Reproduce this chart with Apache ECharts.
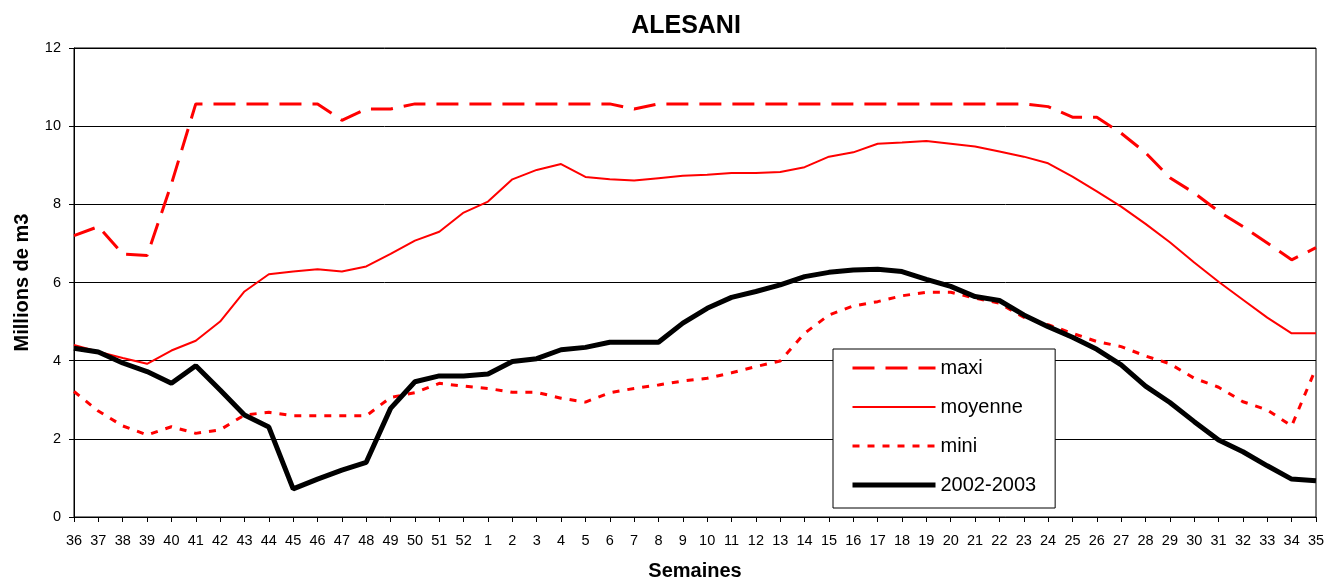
<!DOCTYPE html>
<html>
<head>
<meta charset="utf-8">
<title>ALESANI</title>
<script src="https://cdn.jsdelivr.net/npm/echarts@6/dist/echarts.min.js"></script>
<style>
  html, body { margin: 0; padding: 0; background: #fff; }
  #chart { width: 1327px; height: 579px; }
</style>
</head>
<body>
<div id="chart"></div>
<script>
// semaines : de 36 à 52 puis de 1 à 35
const weeks = ['36','37','38','39','40','41','42','43','44','45','46','47','48','49','50','51','52',
  '1','2','3','4','5','6','7','8','9','10','11','12','13','14','15','16','17','18','19','20',
  '21','22','23','24','25','26','27','28','29','30','31','32','33','34','35'];

// valeurs en millions de m3
const maxi = [7.2, 7.43, 6.73, 6.69, 8.52, 10.57, 10.57, 10.57, 10.57, 10.57, 10.57, 10.15, 10.44, 10.44, 10.57, 10.57, 10.57,
  10.57, 10.57, 10.57, 10.57, 10.57, 10.57, 10.44, 10.57, 10.57, 10.57, 10.57, 10.57, 10.57, 10.57, 10.57, 10.57,
  10.57, 10.57, 10.57, 10.57, 10.57, 10.57, 10.57, 10.5, 10.23, 10.23, 9.82, 9.32, 8.68, 8.29, 7.82, 7.43, 7.01, 6.58, 6.89];
const moyenne = [4.40, 4.23, 4.07, 3.92, 4.26, 4.51, 5.0, 5.77, 6.21, 6.28, 6.34, 6.28, 6.41, 6.73, 7.07, 7.30, 7.79,
  8.07, 8.64, 8.88, 9.03, 8.70, 8.64, 8.61, 8.67, 8.73, 8.76, 8.80, 8.80, 8.83, 8.95, 9.22, 9.33,
  9.55, 9.58, 9.62, 9.55, 9.48, 9.35, 9.22, 9.05, 8.71, 8.33, 7.94, 7.50, 7.03, 6.51, 6.02, 5.56, 5.10, 4.70, 4.70];
const mini = [3.21, 2.71, 2.33, 2.10, 2.31, 2.14, 2.23, 2.61, 2.68, 2.59, 2.59, 2.59, 2.59, 3.06, 3.18, 3.42, 3.35,
  3.29, 3.19, 3.19, 3.04, 2.94, 3.18, 3.29, 3.38, 3.48, 3.55, 3.69, 3.85, 3.99, 4.70, 5.17, 5.40,
  5.51, 5.66, 5.75, 5.75, 5.60, 5.47, 5.11, 4.92, 4.70, 4.49, 4.36, 4.12, 3.92, 3.55, 3.32, 2.95, 2.74, 2.33, 3.81];
const annee = [4.32, 4.22, 3.94, 3.72, 3.42, 3.87, 3.25, 2.61, 2.30, 0.72, 0.97, 1.20, 1.40, 2.78, 3.46, 3.61, 3.61,
  3.66, 3.98, 4.05, 4.28, 4.34, 4.47, 4.47, 4.47, 4.96, 5.34, 5.62, 5.77, 5.94, 6.15, 6.26, 6.32,
  6.34, 6.28, 6.08, 5.90, 5.64, 5.54, 5.17, 4.87, 4.60, 4.29, 3.89, 3.35, 2.93, 2.44, 1.97, 1.67, 1.31, 0.97, 0.93];

const font = 'Liberation Sans, Arial, sans-serif';
const chart = echarts.init(document.getElementById('chart'));

// styles des courbes, partagés entre les séries et la légende
const styles = {
  'maxi': { color: '#ff0000', width: 3, type: [22, 11] },
  'moyenne': { color: '#ff0000', width: 2, type: 'solid' },
  'mini': { color: '#ff0000', width: 3, type: [7, 8] },
  '2002-2003': { color: '#000', width: 5, type: 'solid' }
};
const seriesData = { 'maxi': maxi, 'moyenne': moyenne, 'mini': mini, '2002-2003': annee };
const names = Object.keys(styles);

const option = {
  animation: false,
  backgroundColor: '#fff',
  title: {
    text: 'ALESANI',
    left: 681,
    textAlign: 'center',
    top: 9,
    textStyle: { fontFamily: font, fontSize: 25, fontWeight: 'bold', color: '#000' }
  },
  grid: {
    left: 74, right: 11, top: 48, bottom: 62,
    outerBoundsMode: 'none',
    show: true, borderColor: '#000', borderWidth: 1 // cadre autour du tracé
  },
  legend: {
    orient: 'vertical',
    left: 833,
    top: 349,
    padding: [9, 19, 13, 17],
    borderColor: '#000',
    borderWidth: 1,
    backgroundColor: '#fff',
    itemWidth: 83,
    itemHeight: 14,
    itemGap: 19,
    textStyle: { fontFamily: font, fontSize: 20, color: '#000' },
    // pas de symbole dans la légende, juste le trait
    data: names.map(n => ({
      name: n,
      itemStyle: { opacity: 0 },
      lineStyle: { color: styles[n].color, width: styles[n].width, type: styles[n].type }
    }))
  },
  xAxis: {
    type: 'category',
    data: weeks,
    boundaryGap: false,
    name: 'Semaines',
    nameLocation: 'middle',
    nameGap: 44,
    nameTextStyle: { fontFamily: font, fontSize: 20, fontWeight: 'bold', color: '#000' },
    axisLine: { lineStyle: { color: '#000', width: 1 } },
    axisTick: { show: true, length: 5, interval: 0, lineStyle: { color: '#000' } },
    axisLabel: { interval: 0, margin: 16, fontFamily: font, fontSize: 14.5, color: '#000' }
  },
  yAxis: {
    type: 'value',
    min: 0,
    max: 12,
    interval: 2,
    name: 'Millions de m3',
    nameLocation: 'middle',
    nameGap: 42,
    nameTextStyle: { fontFamily: font, fontSize: 20, fontWeight: 'bold', color: '#000' },
    axisLine: { show: true, lineStyle: { color: '#000', width: 1 } },
    axisTick: { show: true, length: 5, lineStyle: { color: '#000' } },
    axisLabel: { margin: 13, fontFamily: font, fontSize: 14.5, color: '#000' },
    splitLine: { show: true, lineStyle: { color: '#000', width: 1 } }
  },
  series: names.map(n => ({
    name: n,
    type: 'line',
    data: seriesData[n],
    symbol: 'none',
    lineStyle: styles[n],
    itemStyle: { color: styles[n].color }
  }))
};
chart.setOption(option);
</script>
</body>
</html>
